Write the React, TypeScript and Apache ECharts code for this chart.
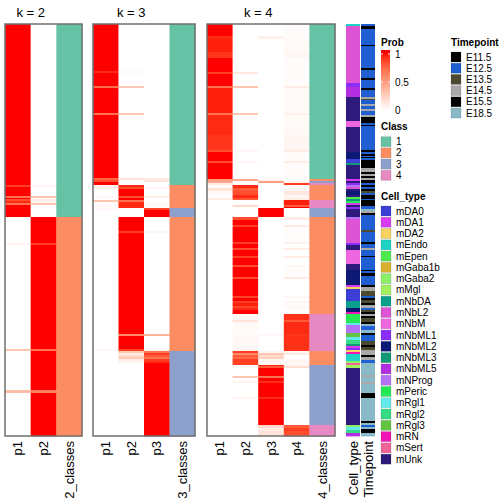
import React, { useEffect, useRef } from 'react';
import * as echarts from 'echarts';

const FONT = '"Liberation Sans", Arial, Helvetica, sans-serif';
const ROWS = 412;

const k2Cols = ['p1', 'p2', '2_classes'];
const k3Cols = ['p1', 'p2', 'p3', '3_classes'];
const k4Cols = ['p1', 'p2', 'p3', 'p4', '4_classes'];
const annCols = ['Cell_type', 'Timepoint'];

// [rows, p1, p2, class]
const k2Segments: number[][] = [
  [161, 1, 0, 1], [2, 0.9, 0.05, 1], [9, 1, 0, 1], [2, 0.7, 0.3, 1], [1, 1, 0, 1],
  [2, 0.85, 0.1, 1], [2, 0.95, 0.05, 1], [2, 0.7, 0.3, 1], [12, 1, 0, 1],
  [26, 0, 1, 2], [2, 0.06, 0.9, 2], [104, 0, 1, 2], [2, 0.3, 0.7, 2], [39, 0, 1, 2],
  [3, 0.35, 0.65, 2], [43, 0, 1, 2],
];

// [rows, p1, p2, p3, class]
const k3Segments: number[][] = [
  [47, 1, 0, 0, 1], [2, 0.95, 0.03, 0, 1], [13, 1, 0, 0, 1], [2, 0.72, 0.28, 0, 1],
  [25, 1, 0, 0, 1], [2, 0.7, 0.3, 0, 1], [63, 1, 0, 0, 1], [2, 0.75, 0.15, 0.1, 1],
  [2, 0.85, 0, 0.15, 1], [3, 1, 0, 0, 1],
  [2, 0.05, 0.95, 0, 2], [2, 0.1, 0.85, 0.05, 2], [7, 0, 1, 0, 2], [2, 0.05, 0.85, 0.1, 2],
  [2, 0, 1, 0, 2], [2, 0.3, 0.7, 0, 2], [6, 0.02, 0.95, 0.03, 2],
  [2, 0.04, 0, 0.9, 3], [7, 0, 0, 1, 3],
  [14, 0, 1, 0, 2], [2, 0, 0.9, 0.04, 2], [101, 0, 1, 0, 2], [2, 0, 0.6, 0.4, 2],
  [13, 0, 1, 0, 2], [2, 0.04, 0.9, 0.06, 2],
  [2, 0, 0.3, 0.7, 3], [2, 0, 0.1, 0.9, 3], [2, 0, 0.2, 0.8, 3], [2, 0, 0.3, 0.7, 3],
  [2, 0, 0.1, 0.9, 3], [2, 0, 0.05, 0.95, 3], [73, 0, 0, 1, 3],
];

// [rows, p1, p2, p3, p4, class]
const k4Segments: number[][] = [
  [12, 1, 0, 0, 0.02, 1], [3, 0.95, 0, 0.08, 0.02, 1], [13, 0.97, 0, 0, 0.03, 1],
  [6, 0.92, 0, 0, 0.05, 1], [14, 1, 0, 0, 0.02, 1], [2, 0.9, 0.12, 0, 0.02, 1],
  [12, 1, 0, 0, 0.02, 1], [2, 0.7, 0.3, 0, 0.1, 1], [25, 0.97, 0, 0, 0.03, 1],
  [2, 0.7, 0.3, 0, 0.08, 1], [20, 0.95, 0, 0, 0.03, 1], [15, 0.92, 0, 0, 0.05, 1],
  [2, 0.85, 0.05, 0, 0.1, 1], [9, 1, 0, 0, 0.02, 1], [2, 0.85, 0.05, 0, 0.1, 1],
  [16, 1, 0, 0, 0.02, 1],
  [2, 0.5, 0.45, 0.05, 0, 2], [2, 0.45, 0, 0.5, 0.05, 3], [2, 0.1, 0, 0, 0.9, 4],
  [3, 0.03, 0.95, 0, 0.02, 2], [3, 0.15, 0.8, 0, 0.05, 2], [4, 0.02, 0.85, 0, 0.12, 2],
  [3, 0, 0.95, 0, 0.05, 2], [2, 0.1, 0.8, 0, 0.1, 2],
  [5, 0, 0, 0, 0.97, 4], [2, 0, 0.2, 0, 0.8, 4], [1, 0, 0, 0, 1, 4],
  [9, 0, 0, 1, 0, 3],
  [3, 0, 0.85, 0, 0.1, 2], [5, 0, 1, 0, 0, 2], [2, 0, 0.9, 0, 0.1, 2], [15, 0, 1, 0, 0.01, 2],
  [2, 0, 0.9, 0, 0.07, 2], [4, 0, 1, 0, 0, 2], [2, 0, 0.85, 0, 0.1, 2], [6, 0, 1, 0, 0, 2],
  [2, 0, 0.9, 0, 0.1, 2], [7, 0, 1, 0, 0, 2], [2, 0, 0.85, 0, 0.04, 2], [10, 0, 1, 0, 0.01, 2],
  [2, 0, 0.85, 0, 0.1, 2], [17, 0, 1, 0, 0, 2], [2, 0, 0.88, 0, 0.04, 2], [3, 0, 1, 0, 0, 2],
  [2, 0, 0.9, 0, 0.06, 2], [3, 0, 0.97, 0, 0.02, 2], [2, 0, 0.88, 0, 0.04, 2],
  [2, 0, 0.95, 0, 0.02, 2], [4, 0, 1, 0, 0, 2],
  [6, 0, 0.04, 0, 0.93, 4], [2, 0, 0.15, 0, 0.8, 4], [12, 0, 0.03, 0, 0.95, 4],
  [2, 0, 0.02, 0.04, 0.92, 4], [15, 0, 0.04, 0, 0.93, 4],
  [2, 0, 0.9, 0.05, 0.05, 2], [2, 0, 0.6, 0.3, 0.1, 2], [2, 0, 0.8, 0.2, 0, 2],
  [2, 0, 0.75, 0.25, 0, 2], [6, 0, 0.9, 0.05, 0.05, 2],
  [1, 0, 0, 0.95, 0.05, 3], [2, 0, 0.02, 0.8, 0.18, 3], [8, 0, 0, 1, 0, 3],
  [2, 0, 0.3, 0.7, 0, 3], [3, 0, 0, 1, 0, 3], [2, 0, 0.06, 0.94, 0, 3], [14, 0, 0, 1, 0, 3],
  [2, 0, 0.06, 0.94, 0, 3], [26, 0, 0, 1, 0, 3],
  [3, 0, 0, 0.2, 0.8, 4], [3, 0, 0, 0.1, 0.9, 4], [5, 0, 0, 0.15, 0.85, 4],
];

const classNames = ['1', '2', '3', '4'];
const classColors = ['#66C2A5', '#FC8D62', '#8DA0CB', '#E78AC3'];

const cellTypes = ['mDA0', 'mDA1', 'mDA2', 'mEndo', 'mEpen', 'mGaba1b', 'mGaba2', 'mMgl', 'mNbDA',
  'mNbL2', 'mNbM', 'mNbML1', 'mNbML2', 'mNbML3', 'mNbML5', 'mNProg', 'mPeric', 'mRgl1', 'mRgl2',
  'mRgl3', 'mRN', 'mSert', 'mUnk'];
const cellTypeColors = ['#3B3FD5', '#D93BF2', '#F7D260', '#1DD3C3', '#4EEA4E', '#D9B12E', '#8BEF6A',
  '#A0F060', '#0BA08C', '#DD55D5', '#EE66E0', '#8A2EF8', '#0C1A75', '#119876', '#B22EE0', '#B473F7',
  '#25E855', '#62EAEA', '#35DB85', '#62C442', '#F015B5', '#F26499', '#2D1A7A'];

const timepoints = ['E11.5', 'E12.5', 'E13.5', 'E14.5', 'E15.5', 'E18.5'];
const timepointColors = ['#000000', '#1F5FD2', '#4C4A30', '#A8A8A8', '#000000', '#8AB9C8'];

const cellTypeRuns: [string, number][] = [
  ['mEndo', 2], ['mNbL2', 57], ['mNbML1', 4], ['mNbML5', 10], ['mUnk', 24], ['mNbM', 6],
  ['mUnk', 25], ['mNbML2', 7], ['mDA0', 4], ['mNbML3', 2], ['mUnk', 14], ['mDA1', 2],
  ['mUnk', 2], ['mNbML1', 2], ['mNProg', 2], ['mNbL2', 2], ['mUnk', 2], ['mNbML2', 4],
  ['mUnk', 2], ['mEpen', 2], ['mNbML3', 2], ['mPeric', 2], ['mDA1', 2], ['mUnk', 2],
  ['mNbML1', 2], ['mUnk', 8], ['mNProg', 2], ['mNbL2', 24], ['mNbML1', 2], ['mUnk', 5],
  ['mNbM', 14], ['mUnk', 6], ['mNbML2', 15], ['mDA1', 2], ['mDA2', 2], ['mDA0', 12],
  ['mNbDA', 7], ['mNbML2', 4], ['mRN', 2], ['mPeric', 9], ['mRgl1', 2], ['mNProg', 8],
  ['mRgl3', 4], ['mRgl1', 3], ['mRgl2', 4], ['mNbML3', 2], ['mDA1', 2], ['mNbML1', 2],
  ['mDA2', 2], ['mRN', 2], ['mEndo', 7], ['mGaba2', 2], ['mSert', 2], ['mMgl', 3],
  ['mUnk', 57], ['mGaba2', 2], ['mRgl1', 3], ['mRgl2', 3], ['mNbML5', 3],
];

const timepointRuns: [string, number][] = [
  ['E12.5', 2], ['E11.5', 3], ['E12.5', 16], ['E11.5', 1], ['E12.5', 22], ['E11.5', 2],
  ['E12.5', 8], ['E11.5', 2], ['E12.5', 8], ['E11.5', 2], ['E12.5', 7], ['E14.5', 2],
  ['E13.5', 1], ['E12.5', 4], ['E14.5', 2], ['E12.5', 3], ['E14.5', 2], ['E12.5', 4],
  ['E14.5', 2], ['E15.5', 6], ['E12.5', 2], ['E11.5', 1], ['E12.5', 24], ['E11.5', 2],
  ['E12.5', 2], ['E11.5', 2], ['E12.5', 1], ['E11.5', 1], ['E12.5', 2], ['E15.5', 8],
  ['E14.5', 4], ['E11.5', 2], ['E14.5', 2], ['E11.5', 2], ['E14.5', 2], ['E11.5', 3],
  ['E12.5', 2], ['E11.5', 2], ['E12.5', 2], ['E11.5', 2], ['E13.5', 2], ['E12.5', 2],
  ['E11.5', 4], ['E12.5', 1], ['E15.5', 6], ['E12.5', 3], ['E18.5', 2], ['E14.5', 2],
  ['E11.5', 2], ['E12.5', 15], ['E13.5', 2], ['E12.5', 10], ['E11.5', 2], ['E12.5', 4],
  ['E14.5', 2], ['E12.5', 6], ['E11.5', 1], ['E12.5', 13], ['E11.5', 1], ['E12.5', 2],
  ['E11.5', 3], ['E12.5', 9], ['E11.5', 2], ['E14.5', 4], ['E13.5', 5], ['E12.5', 2],
  ['E11.5', 2], ['E13.5', 3], ['E11.5', 2], ['E14.5', 3], ['E12.5', 2], ['E13.5', 2],
  ['E11.5', 2], ['E14.5', 2], ['E11.5', 2], ['E13.5', 4], ['E11.5', 2], ['E18.5', 2],
  ['E12.5', 4], ['E18.5', 3], ['E11.5', 2], ['E12.5', 6], ['E13.5', 4], ['E11.5', 2],
  ['E13.5', 3], ['E14.5', 5], ['E11.5', 2], ['E14.5', 3], ['E12.5', 3], ['E18.5', 12],
  ['E14.5', 2], ['E18.5', 5], ['E14.5', 2], ['E18.5', 9], ['E15.5', 5], ['E18.5', 23],
  ['E15.5', 2], ['E18.5', 2], ['E12.5', 2], ['E18.5', 2], ['E15.5', 4], ['E18.5', 3],
];

// ---- colour helpers (white -> red in LAB space) ----
function labToHex(L: number, A: number, B: number): string {
  const fy = (L + 16) / 116;
  const fx = fy + A / 500;
  const fz = fy - B / 200;
  const finv = (t: number) => (t * t * t > 0.008856 ? t * t * t : (t - 16 / 116) / 7.787);
  const X = 0.95047 * finv(fx), Y = finv(fy), Z = 1.08883 * finv(fz);
  const lin = [
    3.2406 * X - 1.5372 * Y - 0.4986 * Z,
    -0.9689 * X + 1.8758 * Y + 0.0415 * Z,
    0.0557 * X - 0.204 * Y + 1.057 * Z,
  ];
  const ch = lin.map((c) => {
    const v = c <= 0.0031308 ? 12.92 * c : 1.055 * Math.pow(Math.max(c, 0), 1 / 2.4) - 0.055;
    return Math.round(Math.min(1, Math.max(0, v)) * 255);
  });
  return '#' + ch.map((v) => v.toString(16).padStart(2, '0')).join('');
}
function probColor(t: number): string {
  const v = Math.min(1, Math.max(0, t));
  return labToHex(100 + v * (53.2408 - 100), v * 80.0925, v * 67.2032);
}

// ---- layout ----
const TOP = 24;
const HEIGHT = 412;
const panels = [
  { left: 5, width: 77, cols: k2Cols, segs: k2Segments, title: 'k = 2' },
  { left: 93, width: 102, cols: k3Cols, segs: k3Segments, title: 'k = 3' },
  { left: 207, width: 128, cols: k4Cols, segs: k4Segments, title: 'k = 4' },
];
const ann = { left: 346, width: 30 };

function buildPanel(segs: number[][], nP: number) {
  const data: number[][] = [];
  const colors: string[] = [];
  let start = 0;
  for (const seg of segs) {
    const end = start + seg[0];
    for (let i = 0; i < nP; i++) {
      data.push([i, start, end]);
      colors.push(probColor(seg[1 + i]));
    }
    data.push([nP, start, end]);
    colors.push(classColors[seg[1 + nP] - 1]);
    start = end;
  }
  return { data, colors };
}

function buildAnn() {
  const data: number[][] = [];
  const colors: string[] = [];
  let s = 0;
  for (const [name, n] of cellTypeRuns) {
    data.push([0, s, s + n]);
    colors.push(cellTypeColors[cellTypes.indexOf(name)]);
    s += n;
  }
  s = 0;
  for (const [name, n] of timepointRuns) {
    data.push([1, s, s + n]);
    colors.push(timepointColors[timepoints.indexOf(name)]);
    s += n;
  }
  return { data, colors };
}

export default function App() {
  const ref = useRef<HTMLDivElement>(null);
  useEffect(() => {
    if (!ref.current) return;
    const chart = echarts.init(ref.current, undefined, { renderer: 'svg' });

    const grids: any[] = [];
    const xAxes: any[] = [];
    const yAxes: any[] = [];
    const series: any[] = [];
    const graphics: any[] = [];

    const addGrid = (left: number, width: number, cols: string[]) => {
      const gi = grids.length;
      grids.push({ left, top: TOP, width, height: HEIGHT, containLabel: false });
      xAxes.push({
        type: 'category', gridIndex: gi, data: cols, position: 'bottom',
        axisLine: { show: false }, axisTick: { show: false }, splitLine: { show: false },
        axisLabel: { rotate: 90, fontSize: 13, color: '#000', margin: 5, fontFamily: FONT, interval: 0 },
      });
      yAxes.push({ type: 'value', gridIndex: gi, min: 0, max: ROWS, inverse: true, show: false });
      return gi;
    };

    panels.forEach((p) => {
      const gi = addGrid(p.left, p.width, p.cols);
      const nP = p.cols.length - 1;
      const { data, colors } = buildPanel(p.segs, nP);
      series.push({
        type: 'custom', xAxisIndex: gi, yAxisIndex: gi, data, encode: { x: 0, y: [1, 2] },
        clip: false, silent: true,
        renderItem: (params: any, api: any) => {
          const c = api.value(0), s = api.value(1), e = api.value(2);
          const a = api.coord([c, s]);
          const b = api.coord([c, e]);
          const w = api.size([1, 0])[0];
          return {
            type: 'rect',
            shape: { x: a[0] - w / 2, y: a[1], width: w + 0.4, height: b[1] - a[1] + 0.4 },
            style: { fill: colors[params.dataIndex] },
          };
        },
      });
      const pw = (p.width / p.cols.length) * nP;
      graphics.push({
        type: 'text', x: p.left + pw / 2, y: 12, z: 20,
        style: { text: p.title, fill: '#000', font: `13px ${FONT}`, textAlign: 'center', textVerticalAlign: 'middle' },
      });
      graphics.push({
        type: 'rect', z: 20, silent: true,
        shape: { x: p.left, y: TOP, width: p.width, height: HEIGHT },
        style: { fill: 'none', stroke: '#707070', lineWidth: 1.5 },
      });
    });

    const ag = addGrid(ann.left, ann.width, annCols);
    const annData = buildAnn();
    series.push({
      type: 'custom', xAxisIndex: ag, yAxisIndex: ag, data: annData.data, encode: { x: 0, y: [1, 2] },
      clip: false, silent: true,
      renderItem: (params: any, api: any) => {
        const c = api.value(0), s = api.value(1), e = api.value(2);
        const a = api.coord([c, s]);
        const b = api.coord([c, e]);
        const w = api.size([1, 0])[0];
        return {
          type: 'rect',
          shape: { x: a[0] - w / 2, y: a[1], width: w - 1, height: b[1] - a[1] + 0.4 },
          style: { fill: annData.colors[params.dataIndex] },
        };
      },
    });

    // ---- legends ----
    const LX = 381;
    const title = (text: string, x: number, y: number) =>
      graphics.push({ type: 'text', x, y, style: { text, fill: '#000', font: `bold 10px ${FONT}`, textVerticalAlign: 'middle' } });
    const label = (text: string, x: number, y: number) =>
      graphics.push({ type: 'text', x, y, style: { text, fill: '#000', font: `10px ${FONT}`, textVerticalAlign: 'middle' } });
    const box = (color: string, x: number, cy: number) =>
      graphics.push({ type: 'rect', shape: { x, y: cy - 5, width: 10, height: 10 }, style: { fill: color, stroke: 'rgba(0,0,0,0.12)', lineWidth: 1 } });

    // Prob colour bar
    title('Prob', LX, 42);
    const barTop = 50, barBot = 114, v1 = 54, v0 = 110;
    const stops: any[] = [];
    for (let i = 0; i <= 20; i++) {
      const o = i / 20;
      const y = barTop + o * (barBot - barTop);
      const v = (v0 - y) / (v0 - v1);
      stops.push({ offset: o, color: probColor(v) });
    }
    graphics.push({
      type: 'rect', shape: { x: LX, y: barTop, width: 9, height: barBot - barTop },
      style: { fill: { type: 'linear', x: 0, y: 0, x2: 0, y2: 1, colorStops: stops } },
    });
    [v1, (v1 + v0) / 2].forEach((y) => {
      graphics.push({ type: 'line', shape: { x1: LX, y1: y, x2: LX + 2, y2: y }, style: { stroke: '#fff', lineWidth: 1 } });
      graphics.push({ type: 'line', shape: { x1: LX + 7, y1: y, x2: LX + 9, y2: y }, style: { stroke: '#fff', lineWidth: 1 } });
    });
    label('1', LX + 14, v1);
    label('0.5', LX + 14, (v1 + v0) / 2);
    label('0', LX + 14, v0);

    // Class legend
    title('Class', LX, 126);
    classNames.forEach((n, i) => {
      const cy = 141.7 + i * 11.2;
      box(classColors[i], LX, cy);
      label(n, LX + 15, cy);
    });

    // Cell type legend
    title('Cell_type', LX, 196);
    cellTypes.forEach((n, i) => {
      const cy = 211 + i * 11.28;
      box(cellTypeColors[i], LX, cy);
      label(n, LX + 15, cy);
    });

    // Timepoint legend
    const TX = 451;
    title('Timepoint', TX, 42);
    timepoints.forEach((n, i) => {
      const cy = 57 + i * 11.2;
      box(timepointColors[i], TX, cy);
      label(n, TX + 15, cy);
    });

    chart.setOption({
      animation: false,
      backgroundColor: '#fff',
      grid: grids,
      xAxis: xAxes,
      yAxis: yAxes,
      series,
      graphic: graphics,
    });
    return () => chart.dispose();
  }, []);
  return <div ref={ref} style={{ position: 'fixed', left: 0, top: 0, width: 504, height: 504 }} />;
}
